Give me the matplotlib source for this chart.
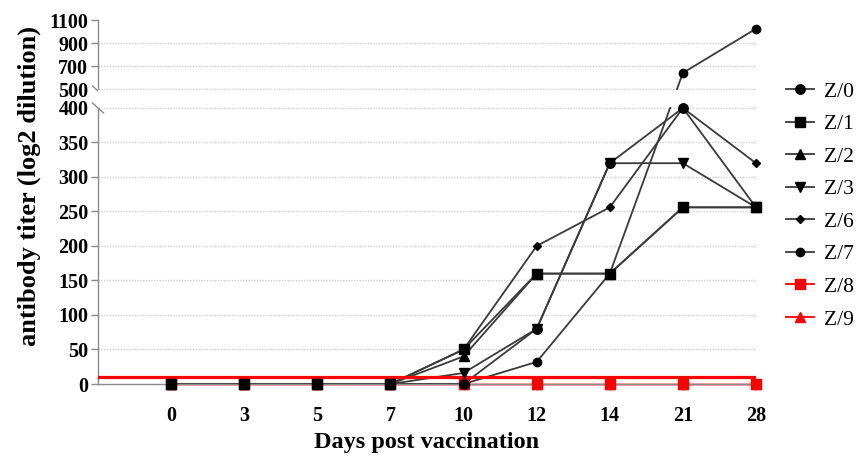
import numpy as np
import matplotlib
matplotlib.use("Agg")
import matplotlib.pyplot as plt
from matplotlib.lines import Line2D

# ---------------- data ----------------
days = ["0", "3", "5", "7", "10", "12", "14", "21", "28"]
z0 = [0, 0, 0, 0, 0, 80, 320, 400, 256]
z1 = [0, 0, 0, 0, 50, 160, 160, 256, 256]
z2 = [0, 0, 0, 0, 40, 160, 160, 256, 256]
z3 = [0, 0, 0, 0, 16, 80, 320, 320, 256]
z6 = [0, 0, 0, 0, 50, 200, 256, 400, 320]
z7 = [0, 0, 0, 0, 0, 32, 160, 640, 1024]
z8 = [0, 0, 0, 0, 0, 0, 0, 0, 0]
z9 = [0, 0, 0, 0, 0, 0, 0, 0, 0]
cutoff = 10
low_ticks = [0, 50, 100, 150, 200, 250, 300, 350, 400]
high_ticks = [500, 700, 900, 1100]

# ---------------- broken y scale ----------------
def fwd(y):
    y = np.asarray(y, dtype=float)
    return np.where(y <= 400, y,
                    np.where(y <= 500, 400 + (y - 400) * 0.275,
                             427.5 + (y - 500) / 6.0))

def inv(t):
    t = np.asarray(t, dtype=float)
    return np.where(t <= 400, t,
                    np.where(t <= 427.5, 400 + (t - 400) / 0.275,
                             500 + (t - 427.5) * 6.0))

W, H = 861, 457
fig = plt.figure(figsize=(W / 100, H / 100), dpi=100)
ax = fig.add_axes([98 / W, 1 - 384 / H, (756 - 98) / W, (384 - 20) / H])
ax.set_yscale("function", functions=(fwd, inv))
ax.set_ylim(0, 1100)
ax.set_xlim(-1, 8)

serif = ["Liberation Serif", "DejaVu Serif"]
x = np.arange(len(days))

line_col = "#3a3a3a"
red = "#ff0000"

series = [
    # label, data, marker, size, color
    ("Z/9", z9, "^", 7, red),
    ("Z/8", z8, "s", 6.5, red),
    ("Z/2", z2, "^", 6.5, "black"),
    ("Z/3", z3, "v", 7, "black"),
    ("Z/6", z6, "D", 4.2, "black"),
    ("Z/7", z7, "o", 6, "black"),
    ("Z/0", z0, "o", 6.8, "black"),
    ("Z/1", z1, "s", 6.8, "black"),
]

for i, (lab, vals, mk, ms, col) in enumerate(series):
    lc = red if col == red else line_col
    lw = 1.0 if col == red else 1.3
    ax.plot(x, vals, color=lc, lw=lw, zorder=2 + i * 0.01, clip_on=False)
    ax.plot(x, vals, ls="none", marker=mk, ms=ms, color=col, mec=col,
            zorder=3 + i * 0.01, clip_on=False)

# cutoff line
ax.axhline(cutoff, color=red, lw=2.3, zorder=2.5)

# hide lines inside the axis break
ax.axhspan(404, 496, color="white", zorder=2.6, lw=0)

# grid (dotted)
for g in low_ticks[1:] + high_ticks[:-1]:
    ax.axhline(g, color="#cfcfcf", lw=1.0, ls=(0, (1, 1)), zorder=1)

# spines
for s in ["top", "right", "left"]:
    ax.spines[s].set_visible(False)
ax.spines["bottom"].set_color("#8a8a8a")
ax.spines["bottom"].set_linewidth(1.0)

ya400 = fwd(400) / fwd(1100)
ya500 = fwd(500) / fwd(1100)
spc = "#8a8a8a"
ax.add_line(Line2D([0, 0], [0, ya400], transform=ax.transAxes, color=spc,
                   lw=1.0, clip_on=False))
ax.add_line(Line2D([0, 0], [ya500, 1], transform=ax.transAxes, color=spc,
                   lw=1.0, clip_on=False))
dx = 5.5 / (756 - 98)
dy = 5.0 / (384 - 20)
for ya in (ya400, ya500 - 2 / 364):
    ax.add_line(Line2D([-dx, dx], [ya + dy, ya - dy], transform=ax.transAxes,
                       color=spc, lw=1.0, clip_on=False))

# ticks
ax.set_yticks(low_ticks + high_ticks)
ax.set_yticklabels([str(v) for v in low_ticks + high_ticks])
ax.set_xticks(x)
ax.set_xticklabels(days)
ax.tick_params(axis="y", length=5, color=spc, width=1.0, pad=2)
ax.tick_params(axis="x", length=4, color=spc, width=1.0, pad=12)
for t in ax.get_xticklabels() + ax.get_yticklabels():
    t.set_fontfamily(serif)
    t.set_fontweight("bold")
    t.set_fontsize(14.5)
for tk, v in zip(ax.yaxis.get_major_ticks(), low_ticks + high_ticks):
    if v in (400, 500):
        tk.tick1line.set_visible(False)

ax.set_xlabel("Days post vaccination", fontfamily=serif, fontweight="bold",
              fontsize=17.5, labelpad=4)
ax.set_ylabel("antibody titer (log2 dilution)", fontfamily=serif,
              fontweight="bold", fontsize=19, labelpad=4)
ax.yaxis.set_label_coords(-0.086, 0.545)

# legend
order = ["Z/0", "Z/1", "Z/2", "Z/3", "Z/6", "Z/7", "Z/8", "Z/9"]
info = {lab: (mk, ms, col) for lab, _, mk, ms, col in series}
handles = []
for lab in order:
    mk, ms, col = info[lab]
    lc = red if col == red else line_col
    handles.append(Line2D([], [], color=lc, lw=1.3, marker=mk, ms=ms,
                          mfc=col, mec=col))
leg = fig.legend(handles, order, loc="upper left",
                 bbox_to_anchor=(777 / W, 1 - 73 / H), frameon=False,
                 prop={"family": serif, "size": 15.5}, handlelength=1.3,
                 labelspacing=0.58, handletextpad=0.5, borderaxespad=0)

fig.savefig("out.png", dpi=100)
